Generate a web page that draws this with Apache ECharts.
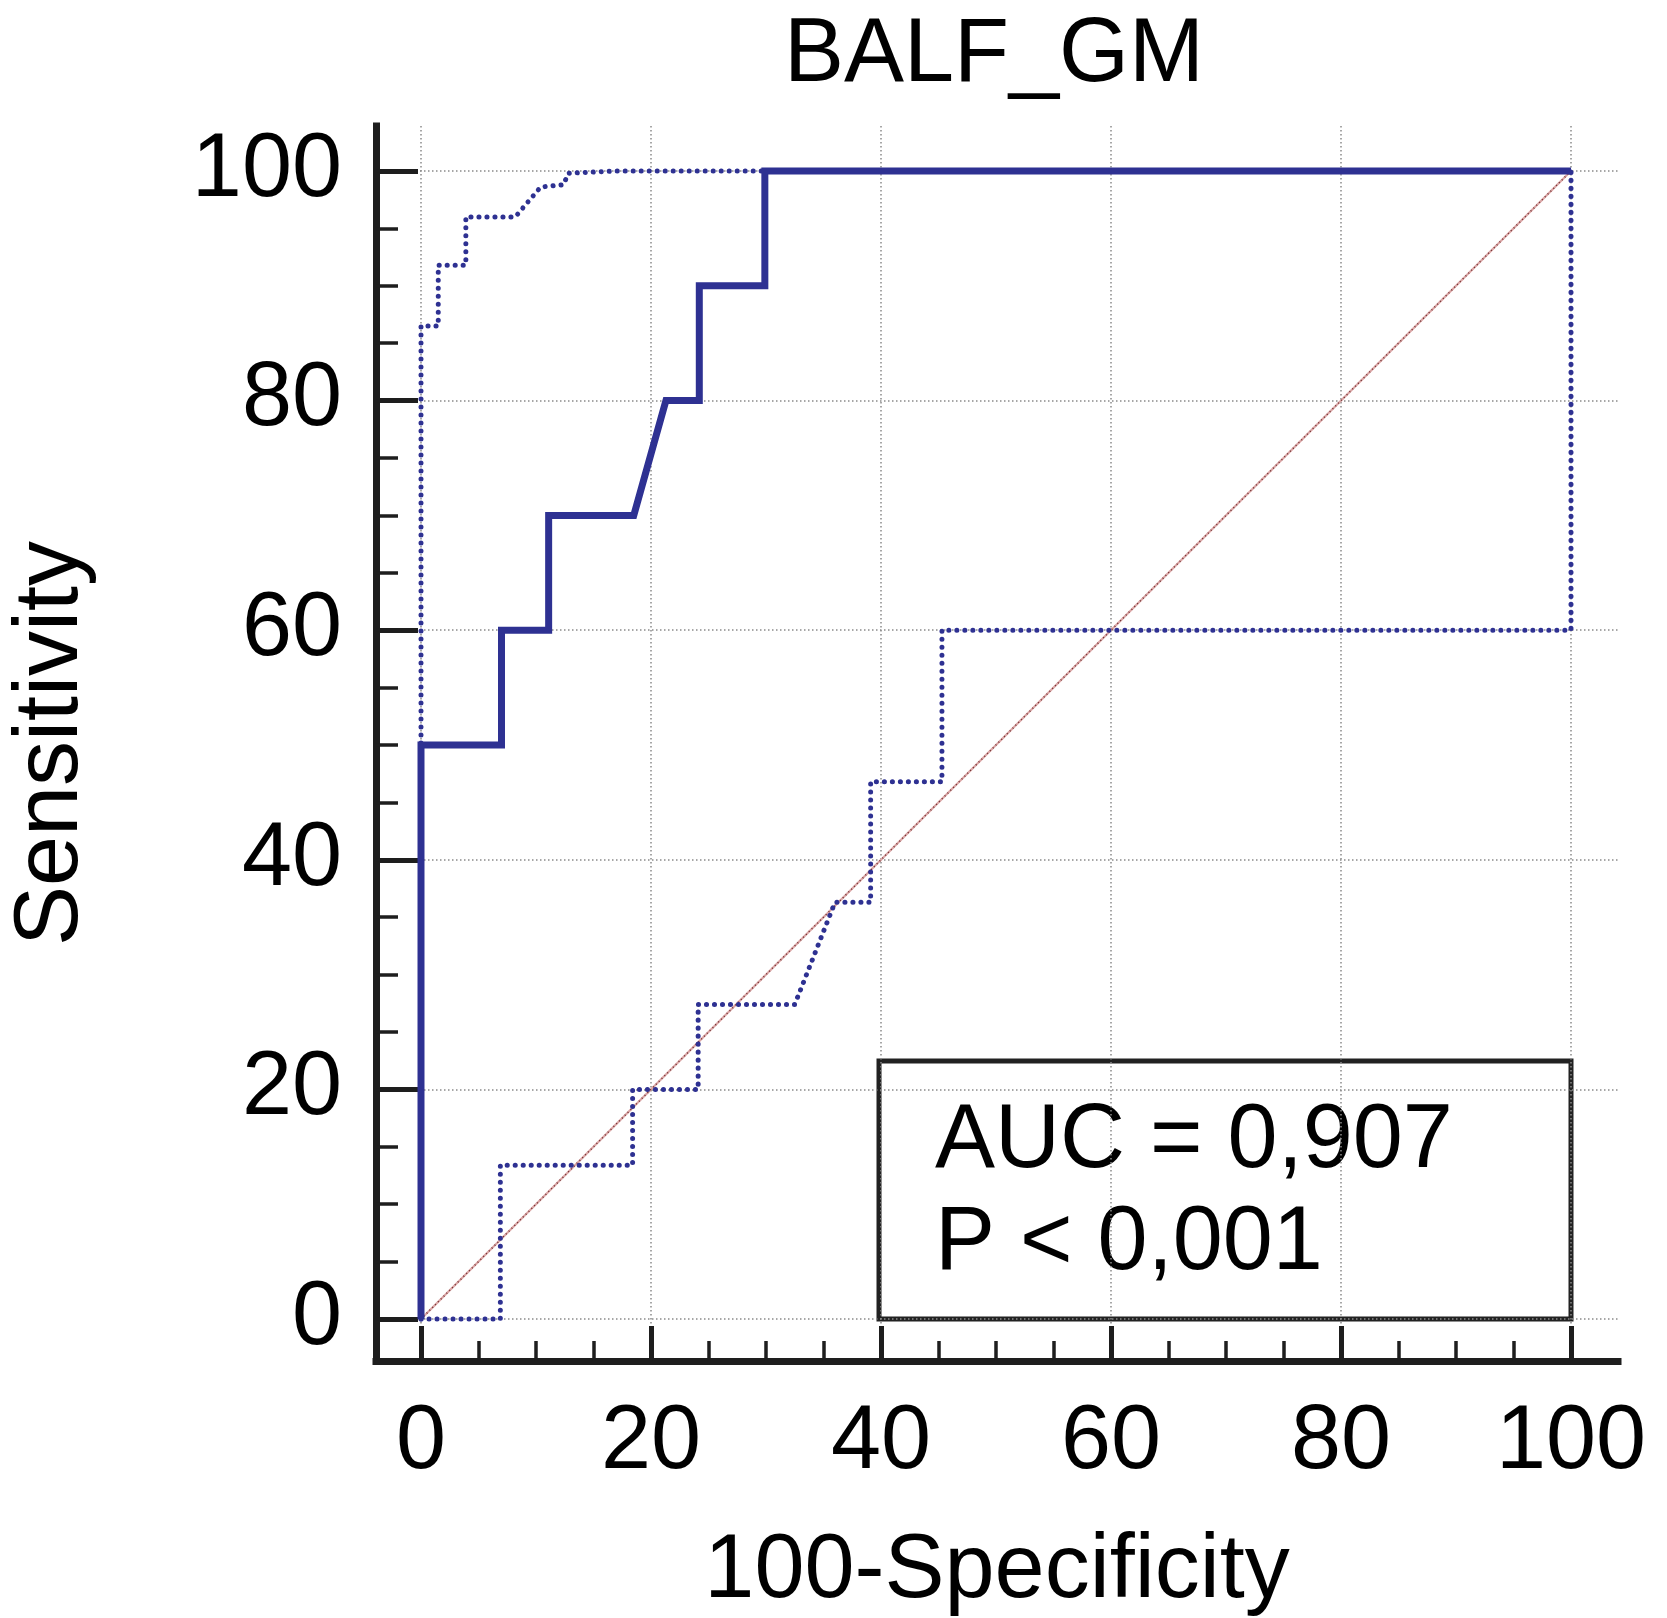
<!DOCTYPE html>
<html>
<head>
<meta charset="utf-8">
<script src="https://cdn.jsdelivr.net/npm/echarts@6/dist/echarts.min.js"></script>
<style>
html,body{margin:0;padding:0;background:#fff;}
#chart{width:1667px;height:1618px;}
</style>
</head>
<body>
<div id="chart"></div>
<script>
// ---------- data ----------
const chartTitle = 'BALF_GM';
const xName = '100-Specificity';
const yName = 'Sensitivity';
const aucText = 'AUC = 0,907';
const pText = 'P < 0,001';

const majorTicks = [0, 20, 40, 60, 80, 100];
const minorTicks = [0, 5, 10, 15, 20, 25, 30, 35, 40, 45, 50, 55, 60, 65, 70, 75, 80, 85, 90, 95, 100];

// ROC curve (solid)
const rocX = [0, 0, 7.0, 7.0, 11.1, 11.1, 18.5, 21.3, 24.2, 24.2, 29.9, 29.9, 100];
const rocY = [0, 50, 50, 60, 60, 70, 70, 80, 80, 90, 90, 100, 100];

// upper confidence bound (dotted)
const upperX = [0, 0, 1.5, 1.5, 3.9, 3.9, 8.2, 10.4, 12.4, 12.8, 17.0, 100];
const upperY = [0, 86.5, 86.5, 91.8, 91.8, 96.0, 96.0, 98.6, 98.8, 99.8, 100, 100];

// lower confidence bound (dotted)
const lowerX = [0, 6.9, 6.9, 18.4, 18.4, 24.1, 24.1, 32.5, 36.0, 39.1, 39.1, 45.3, 45.3, 100, 100];
const lowerY = [0, 0, 13.4, 13.4, 20.0, 20.0, 27.4, 27.4, 36.3, 36.3, 46.8, 46.8, 60.0, 60.0, 100];

// reference diagonal
const diagX = [0, 100];
const diagY = [0, 100];

// ---------- layout ----------
const W = 1667, H = 1618;
const axisLeftPx = 376, axisBottomPx = 1361, axisRightPx = 1618, axisTopPx = 126;
const px0 = 421, px100 = 1571, py0 = 1319, py100 = 171;
const sx = (px100 - px0) / 100, sy = (py0 - py100) / 100;
const xMin = -(px0 - axisLeftPx) / sx, xMax = 100 + (axisRightPx - px100) / sx;
const yMin = -(axisBottomPx - py0) / sy, yMax = 100 + (py100 - axisTopPx) / sy;

const FONT = "'Liberation Sans', Arial, Helvetica, sans-serif";
const NAVY = '#2e3192';
const AXIS = '#1e1e1e';

const pairs = (xs, ys) => xs.map((x, i) => [x, ys[i]]);

const chart = echarts.init(document.getElementById('chart'), null, {renderer: 'canvas', width: W, height: H});

const option = {
  animation: false,
  backgroundColor: '#ffffff',
  title: {
    text: chartTitle,
    left: 994, top: 11, textAlign: 'center', padding: 0,
    textStyle: {fontFamily: FONT, fontSize: 90, fontWeight: 'normal', color: '#000'}
  },
  grid: {
    left: axisLeftPx, top: axisTopPx, right: W - axisRightPx, bottom: H - axisBottomPx,
    containLabel: false, outerBoundsMode: 'none'
  },
  xAxis: [
    {
      type: 'value', position: 'bottom', min: xMin, max: xMax,
      name: xName, nameLocation: 'middle', nameGap: 166,
      nameTextStyle: {fontFamily: FONT, fontSize: 90, color: '#000'},
      axisLine: {show: true, onZero: false, lineStyle: {color: AXIS, width: 7, cap: 'square'}},
      axisTick: {show: true, inside: true, length: 35, customValues: majorTicks, lineStyle: {color: AXIS, width: 5}},
      axisLabel: {show: true, customValues: majorTicks, margin: 37, fontFamily: FONT, fontSize: 90, color: '#000'},
      splitLine: {show: true, lineStyle: {color: '#8a8a8a', width: 1.5, type: [1.5, 2.5]}},
      minorTick: {show: false}
    },
    {
      type: 'value', position: 'bottom', min: xMin, max: xMax,
      axisLine: {show: false, onZero: false},
      axisTick: {show: true, inside: true, length: 20, customValues: minorTicks, lineStyle: {color: AXIS, width: 3.5}},
      axisLabel: {show: false},
      splitLine: {show: false}
    }
  ],
  yAxis: [
    {
      type: 'value', position: 'left', min: yMin, max: yMax,
      name: yName, nameLocation: 'middle', nameGap: 279, nameRotate: 90,
      nameTextStyle: {fontFamily: FONT, fontSize: 90, color: '#000'},
      axisLine: {show: true, onZero: false, lineStyle: {color: AXIS, width: 7, cap: 'square'}},
      axisTick: {show: true, inside: true, length: 42, customValues: majorTicks, lineStyle: {color: AXIS, width: 5}},
      axisLabel: {show: true, customValues: majorTicks, margin: 34, fontFamily: FONT, fontSize: 90, color: '#000'},
      splitLine: {show: true, lineStyle: {color: '#8a8a8a', width: 1.5, type: [1.5, 2.5]}},
      minorTick: {show: false}
    },
    {
      type: 'value', position: 'left', min: yMin, max: yMax,
      axisLine: {show: false, onZero: false},
      axisTick: {show: true, inside: true, length: 22, customValues: minorTicks, lineStyle: {color: AXIS, width: 3.5}},
      axisLabel: {show: false},
      splitLine: {show: false}
    }
  ],
  series: [
    {
      type: 'line', name: 'diagonal', data: pairs(diagX, diagY),
      showSymbol: false, silent: true, z: 2,
      lineStyle: {color: '#dba5a5', width: 2.2, type: 'solid'}
    },
    {
      type: 'line', name: 'diagonal-dots', data: pairs(diagX, diagY),
      showSymbol: false, silent: true, z: 3,
      lineStyle: {color: '#6e2f2f', width: 1.5, type: [1, 3]}
    },
    {
      type: 'line', name: 'lower', data: pairs(lowerX, lowerY),
      showSymbol: false, silent: true, z: 4,
      lineStyle: {color: NAVY, width: 5, type: [0.1, 7.9], cap: 'round'}
    },
    {
      type: 'line', name: 'upper', data: pairs(upperX, upperY),
      showSymbol: false, silent: true, z: 4,
      lineStyle: {color: NAVY, width: 5, type: [0.1, 7.9], cap: 'round'}
    },
    {
      type: 'line', name: 'ROC', data: pairs(rocX, rocY),
      showSymbol: false, silent: true, z: 5,
      lineStyle: {color: NAVY, width: 7, type: 'solid', join: 'miter'}
    }
  ],
  graphic: [
    {
      type: 'group', z: 100,
      children: [
        {type: 'rect', shape: {x: 879, y: 1061, width: 692, height: 258},
         style: {fill: '#fff', stroke: '#222', lineWidth: 5}},
        {type: 'text', x: 935, y: 1142,
         style: {text: aucText, font: '90px ' + FONT, fill: '#000', textAlign: 'left', textVerticalAlign: 'middle'}},
        {type: 'text', x: 935, y: 1244,
         style: {text: pText, font: '90px ' + FONT, fill: '#000', textAlign: 'left', textVerticalAlign: 'middle'}}
      ]
    }
  ]
};
chart.setOption(option);
</script>
</body>
</html>
